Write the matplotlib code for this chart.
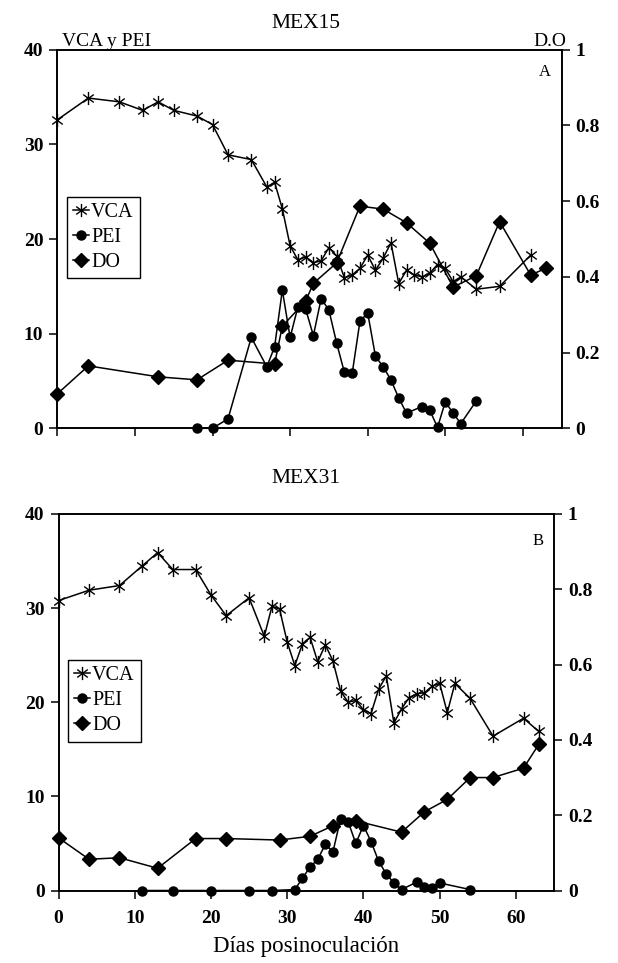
import matplotlib
matplotlib.use('Agg')
import matplotlib.pyplot as plt
from matplotlib.path import Path

plt.rcParams['font.family'] = ['Liberation Serif', 'DejaVu Serif']

# ---------------- data: MEX15 (panel A) ----------------
a_vca_x = [0, 4, 8, 11, 13, 15, 18, 20, 22, 25, 27, 28, 29, 30, 31, 32, 33, 34, 35, 36,
           37, 38, 39, 40, 41, 42, 43, 44, 45, 46, 47, 48, 49, 50, 51, 52, 54, 57, 61]
a_vca_y = [32.6, 34.9, 34.5, 33.6, 34.5, 33.6, 33.0, 32.1, 28.9, 28.4, 25.5, 26.0, 23.2, 19.3,
           17.8, 18.1, 17.5, 17.7, 19.1, 18.2, 15.9, 16.2, 16.9, 18.3, 16.7, 18.0, 19.6, 15.3,
           16.7, 16.2, 16.0, 16.4, 17.3, 16.9, 15.5, 16.0, 14.7, 15.0, 18.3]
a_pei_x = [18, 20, 22, 25, 27, 28, 29, 30, 31, 32, 33, 34, 35, 36, 37, 38, 39, 40, 41, 42,
           43, 44, 45, 47, 48, 49, 50, 51, 52, 54]
a_pei_y = [0.0, 0.0, 1.0, 9.6, 6.5, 8.6, 14.6, 9.6, 12.8, 12.6, 9.8, 13.7, 12.5, 9.0, 5.9,
           5.8, 11.3, 12.2, 7.6, 6.5, 5.1, 3.2, 1.6, 2.3, 1.9, 0.1, 2.8, 1.6, 0.5, 2.9]
a_do_x = [0, 4, 13, 18, 22, 28, 29, 32, 33, 36, 39, 42, 45, 48, 51, 54, 57, 61, 63]
a_do_y = [0.091, 0.165, 0.136, 0.128, 0.18, 0.17, 0.27, 0.336, 0.383, 0.437, 0.587, 0.579,
          0.543, 0.489, 0.373, 0.403, 0.546, 0.405, 0.423]

# ---------------- data: MEX31 (panel B) ----------------
b_vca_x = [0, 4, 8, 11, 13, 15, 18, 20, 22, 25, 27, 28, 29, 30, 31, 32, 33, 34, 35, 36,
           37, 38, 39, 40, 41, 42, 43, 44, 45, 46, 47, 48, 49, 50, 51, 52, 54, 57, 61, 63]
b_vca_y = [30.8, 31.9, 32.4, 34.5, 35.9, 34.1, 34.1, 31.4, 29.2, 31.1, 27.0, 30.2, 29.9, 26.4,
           23.9, 26.2, 26.9, 24.3, 26.1, 24.4, 21.2, 20.0, 20.2, 19.2, 18.8, 21.4, 22.8, 17.8,
           19.3, 20.5, 20.9, 21.0, 21.7, 22.0, 18.9, 22.0, 20.4, 16.4, 18.3, 16.9]
b_pei_x = [11, 15, 20, 25, 28, 31, 32, 33, 34, 35, 36, 37, 38, 39, 40, 41, 42, 43, 44, 45,
           47, 48, 49, 50, 54]
b_pei_y = [0.0, 0.0, 0.0, 0.0, 0.0, 0.1, 1.3, 2.5, 3.3, 4.9, 4.1, 7.6, 7.3, 5.0, 6.9, 5.2,
           3.1, 1.75, 0.8, 0.1, 0.9, 0.4, 0.3, 0.8, 0.1]
b_do_x = [0, 4, 8, 13, 18, 22, 29, 33, 36, 39, 45, 48, 51, 54, 57, 61, 63]
b_do_y = [0.14, 0.083, 0.087, 0.059, 0.138, 0.138, 0.134, 0.144, 0.172, 0.185, 0.155, 0.209,
          0.242, 0.30, 0.30, 0.325, 0.388]

left_ticks = [0, 10, 20, 30, 40]
right_ticks = [0, 0.2, 0.4, 0.6, 0.8, 1]
right_labels = ['0', '0.2', '0.4', '0.6', '0.8', '1']
x_ticks = [0, 10, 20, 30, 40, 50, 60]
series_labels = ['VCA', 'PEI', 'DO']

W, H = 618, 963
fig = plt.figure(figsize=(W / 100, H / 100), dpi=100)

star = Path([(0, -1), (0, 1), (-0.8, -0.6), (0.8, 0.6), (-0.8, 0.6), (0.8, -0.6)],
            [Path.MOVETO, Path.LINETO] * 3)

TICKSIZE = 14


def px_rect(l, r, t, b):
    return [l / W, 1 - b / H, (r - l) / W, (b - t) / H]


def panel(rect, vx, vy, px, py, dx, dy, letter, letter_pos, leg_anchor, show_xlabels):
    ax = fig.add_axes(rect)
    ax2 = ax.twinx()
    l1, = ax.plot(vx, vy, color='black', lw=1.1, marker=star, ms=9.5, mew=1.0,
                  clip_on=False, label=series_labels[0])
    l2, = ax.plot(px, py, color='black', lw=1.1, marker='o', ms=6.5,
                  clip_on=False, label=series_labels[1])
    l3, = ax2.plot(dx, dy, color='black', lw=1.1, marker='D', ms=7.5,
                   clip_on=False, label=series_labels[2])
    ax.set_xlim(0, 65)
    ax.set_ylim(0, 40)
    ax2.set_ylim(0, 1)
    ax.set_xticks(x_ticks)
    ax.set_yticks(left_ticks)
    ax2.set_yticks(right_ticks)
    ax2.set_yticklabels(right_labels)
    for a in (ax, ax2):
        for s in a.spines.values():
            s.set_linewidth(1.2)
            s.set_color('black')
        a.tick_params(direction='out', length=6, width=1.1, colors='black')
    ax.tick_params(axis='x', pad=8)
    ax.tick_params(axis='y', pad=4)
    ax2.tick_params(axis='y', pad=4)
    for lab in ax.get_yticklabels() + ax2.get_yticklabels() + ax.get_xticklabels():
        lab.set_fontsize(TICKSIZE)
        lab.set_fontweight('bold')
    if not show_xlabels:
        ax.set_xticklabels([])
    ax.text(letter_pos[0], letter_pos[1], letter, transform=ax.transAxes,
            ha='center', va='center', fontsize=12)
    leg = ax2.legend([l1, l2, l3], series_labels, loc='upper left', bbox_to_anchor=leg_anchor,
                     borderaxespad=0, frameon=True, fancybox=False, edgecolor='black',
                     framealpha=1, handlelength=0.8, handletextpad=0.1, labelspacing=0.3,
                     borderpad=0.3, fontsize=14.5)
    leg.get_frame().set_linewidth(1.0)
    return ax, ax2


panel(px_rect(57.3, 561.7, 49.8, 428.3), a_vca_x, a_vca_y, a_pei_x, a_pei_y, a_do_x, a_do_y,
      'A', (0.967, 0.941), (0.019, 0.611), False)
panel(px_rect(58.5, 554.0, 514.0, 890.5), b_vca_x, b_vca_y, b_pei_x, b_pei_y, b_do_x, b_do_y,
      'B', (0.968, 0.928), (0.019, 0.612), True)

fig.text(306 / W, 1 - 24 / H, 'MEX15', ha='center', va='center', fontsize=15.5)
fig.text(62 / W, 1 - 41 / H, 'VCA y PEI', ha='left', va='center', fontsize=14)
fig.text(566 / W, 1 - 41 / H, 'D.O', ha='right', va='center', fontsize=14)
fig.text(306 / W, 1 - 478 / H, 'MEX31', ha='center', va='center', fontsize=15.5)
fig.text(306 / W, 1 - 946 / H, 'Días posinoculación', ha='center', va='center', fontsize=16.5)

fig.savefig('out.png', dpi=100)
